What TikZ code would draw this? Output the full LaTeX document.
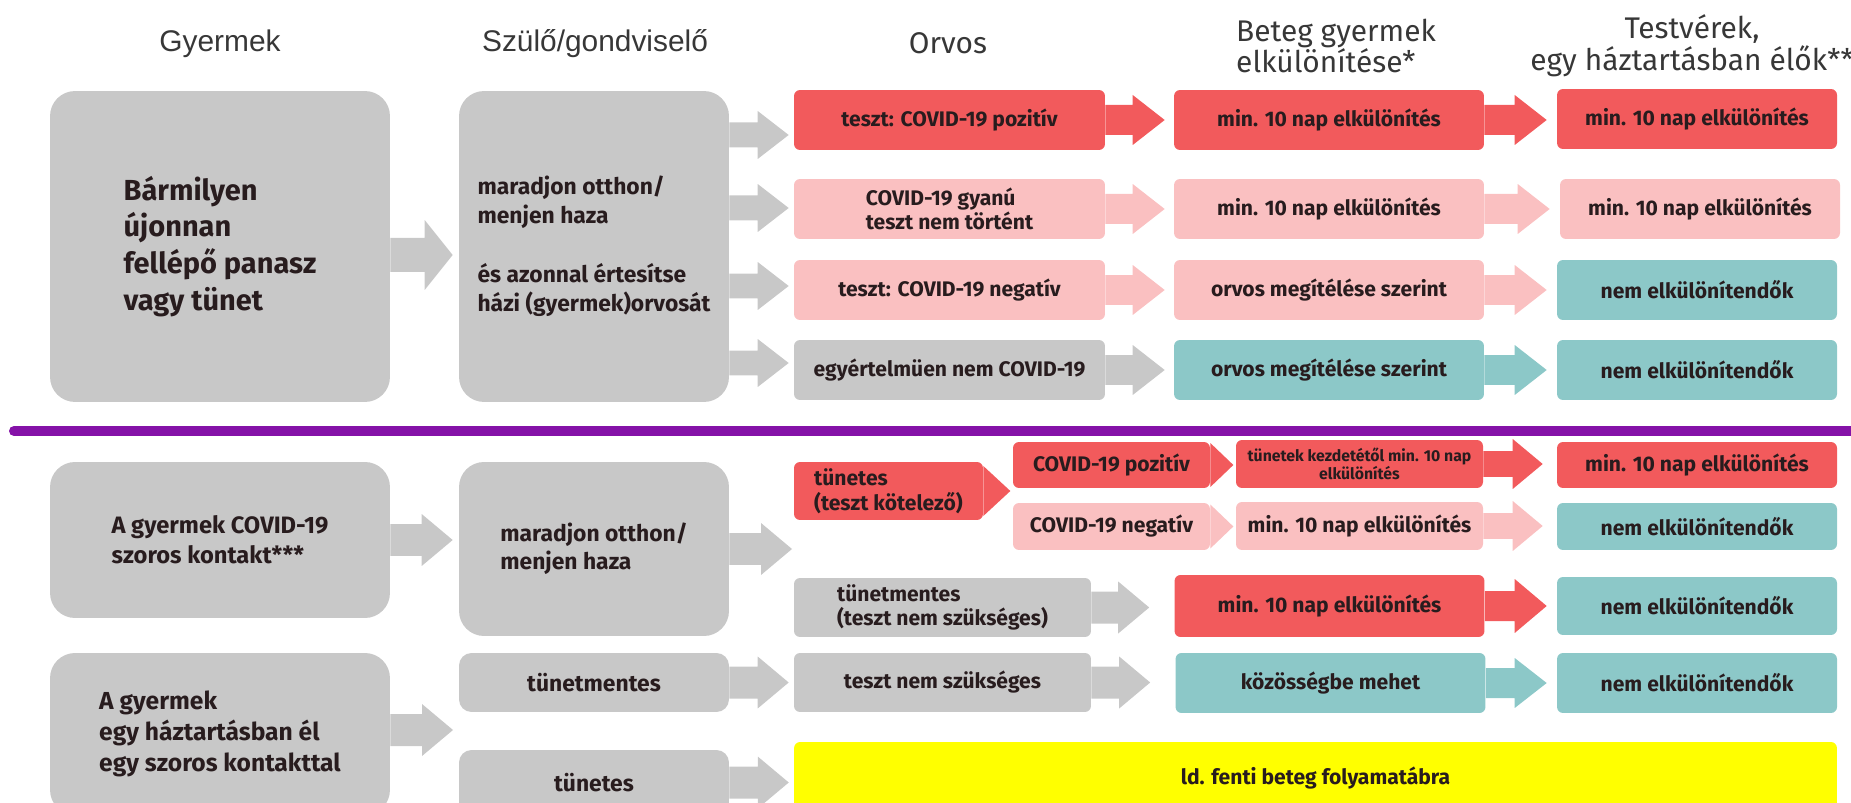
\documentclass[tikz,border=0pt]{standalone}
\usepackage{fontspec}
\setmainfont{Fira Sans}
\newfontfamily\hdfont{Liberation Sans}
\usetikzlibrary{calc}

\definecolor{cgray}{RGB}{200,200,200}
\definecolor{cred}{RGB}{242,90,92}
\definecolor{cpink}{RGB}{250,192,193}
\definecolor{cteal}{RGB}{140,200,200}
\definecolor{cyel}{RGB}{255,255,0}
\definecolor{cpurp}{RGB}{133,18,168}
\definecolor{ink}{RGB}{40,28,30}
\definecolor{hd}{RGB}{55,55,55}

\begin{document}
\begin{tikzpicture}[x=0.02cm, y=-0.02cm,
		shafthalf/.store in=\fsh, headhalf/.store in=\fhw, headlen/.store in=\fhl,
		shafthalf=0.3cm, headhalf=0.5cm, headlen=0.64cm,
		flow/.style={fill=#1, draw=none, to path={let \p1=(\tikztostart), \p2=(\tikztotarget) in
			(\x1,\y1+\fsh) -- (\x2-\fhl,\y1+\fsh) -- (\x2-\fhl,\y1+\fhw) -- (\x2,\y1)
			-- (\x2-\fhl,\y1-\fhw) -- (\x2-\fhl,\y1-\fsh) -- (\x1,\y1-\fsh) -- cycle}},
		box/.style={rectangle, rounded corners=0.12cm, inner sep=0pt, text=ink, align=center,
			font=\fontsize{12}{14}\bfseries\selectfont},
		ocell/.style={box, fill=#1, minimum width=6.22cm, minimum height=1.2cm},
		bcell/.style={box, fill=#1, minimum width=6.2cm, minimum height=1.2cm},
		tcell/.style={box, fill=#1, minimum width=5.6cm, minimum height=1.2cm},
		big/.style={box, fill=cgray, rounded corners=0.5cm, align=left, minimum width=6.8cm,
			font=\fontsize{13.5}{17}\bfseries\selectfont},
		mid/.style={box, fill=cgray, rounded corners=0.5cm, align=left, minimum width=5.4cm,
			font=\fontsize{13}{16}\bfseries\selectfont},
		colhead/.style={text=hd, font=\fontsize{17}{18}\selectfont},
		arialhead/.style={text=hd, font=\hdfont\fontsize{17}{18}\selectfont}]
		\useasboundingbox (0,0) rectangle (1851,803);
		\clip (0,0) rectangle (1851,803);

		\node[arialhead] (h1) at (220,44) {Gyermek};
		\node[arialhead] (h2) at (595,44) {Szülő/gondviselő};
		\node[colhead] (h3) at (948,43) {Orvos};
		\node[colhead, anchor=west, align=left] (h4) at (1230,46) {Beteg gyermek\\elkülönítése*};
		\node[colhead, align=center] (h5) at (1692,46) {Testvérek,\\egy háztartásban élők**};

		\node[big, minimum height=6.22cm, font=\fontsize{16.5}{21}\bfseries\selectfont] (gy1) at (220,246.5)
			{Bármilyen\\újonnan\\fellépő panasz\\vagy tünet};
		\node[mid, minimum height=6.22cm, font=\fontsize{13}{16.5}\bfseries\selectfont] (sz1) at (594,246.5)
			{maradjon otthon/\\menjen haza\\[17pt]és azonnal értesítse\\házi (gyermek)orvosát};

		\node[ocell=cred] (or1) at (949.5,120) {teszt: COVID-19 pozitív};
		\node[ocell=cpink, align=left] (or2) at (949.5,209) {COVID-19 gyanú\\teszt nem történt};
		\node[ocell=cpink] (or3) at (949.5,290) {teszt: COVID-19 negatív};
		\node[ocell=cgray] (or4) at (949.5,370) {egyértelmüen nem COVID-19};
		\node[bcell=cred] (be1) at (1329,120) {min. 10 nap elkülönítés};
		\node[bcell=cpink] (be2) at (1329,209) {min. 10 nap elkülönítés};
		\node[bcell=cpink] (be3) at (1329,290) {orvos megítélése szerint};
		\node[bcell=cteal] (be4) at (1329,370) {orvos megítélése szerint};
		\node[tcell=cred] (te1) at (1697,119) {min. 10 nap elkülönítés};
		\node[tcell=cpink] (te2) at (1700,209) {min. 10 nap elkülönítés};
		\node[tcell=cteal] (te3) at (1697,290) {nem elkülönítendők};
		\node[tcell=cteal] (te4) at (1697,370) {nem elkülönítendők};

		\path[flow=cgray, shafthalf=0.34cm, headhalf=0.7cm, headlen=0.56cm]
			([yshift=-0.17cm]gy1.east) to ([xshift=-0.12cm]sz1.west);
		\path[flow=cgray, shafthalf=0.25cm, headhalf=0.48cm, headlen=0.62cm]
			($(sz1.east |- or1)+(0,15)$) to ([xshift=-0.1cm]or1.west)
			($(sz1.east |- or2)+(0,-1)$) to ([xshift=-0.1cm]or2.west)
			($(sz1.east |- or3)+(0,-4)$) to ([xshift=-0.1cm]or3.west)
			($(sz1.east |- or4)+(0,-7)$) to ([xshift=-0.1cm]or4.west);
		\path[flow=cred] (or1.east) to ([xshift=-0.18cm]be1.west)
			(be1.east) to ([xshift=-0.2cm]te1.west);
		\path[flow=cpink] (or2.east) to ([xshift=-0.18cm]be2.west)
			(be2.east) to ([xshift=-0.2cm]te2.west)
			(or3.east) to ([xshift=-0.18cm]be3.west)
			(be3.east) to ([xshift=-0.2cm]te3.west);
		\path[flow=cgray] (or4.east) to ([xshift=-0.18cm]be4.west);
		\path[flow=cteal] (be4.east) to ([xshift=-0.2cm]te4.west);

		\coordinate (dl) at (14,431);
		\coordinate (dr) at (1870,431);
		\draw[cpurp, line width=0.2cm, line cap=round] (dl) -- (dr);

		\node[big, minimum height=3.12cm] (gy2) at (220,540) {A gyermek COVID-19\\szoros kontakt***};
		\node[mid, minimum height=3.48cm] (sz2) at (594,549) {maradjon otthon/\\menjen haza};
		\node[mid, rounded corners=0.25cm, align=center, minimum height=1.18cm] (sz3) at (594,682.5) {tünetmentes};
		\node[mid, rounded corners=0.25cm, align=center, minimum height=1.3cm] (sz4) at (594,782.5) {tünetes};
		\node[big, minimum height=3.24cm, font=\fontsize{14}{17.6}\bfseries\selectfont] (gy3) at (220,734)
			{A gyermek\\egy háztartásban él\\egy szoros kontakttal};

		\node[box, fill=cred, minimum width=3.78cm, minimum height=1.16cm, align=left] (or5) at (888.5,491)
			{tünetes\\(teszt kötelező)};
		\node[box, fill=cred, minimum width=3.94cm, minimum height=0.92cm] (or6) at (1111.5,465) {COVID-19 pozitív};
		\node[box, fill=cpink, minimum width=3.94cm, minimum height=0.94cm] (or7) at (1111.5,526.5) {COVID-19 negatív};
		\node[box, fill=cred, minimum width=4.94cm, minimum height=0.96cm, font=\fontsize{9}{10.5}\bfseries\selectfont]
			(be5) at (1359.5,464) {tünetek kezdetétől min. 10 nap\\elkülönítés};
		\node[box, fill=cpink, minimum width=4.94cm, minimum height=0.96cm] (be6) at (1359.5,526) {min. 10 nap elkülönítés};
		\node[tcell=cred, minimum height=0.92cm] (te5) at (1697,465) {min. 10 nap elkülönítés};
		\node[tcell=cteal, minimum height=0.94cm] (te6) at (1697,526.5) {nem elkülönítendők};

		\node[box, fill=cgray, minimum width=5.94cm, minimum height=1.18cm, align=left] (or8) at (942.5,607.5)
			{tünetmentes\\(teszt nem szükséges)};
		\node[box, fill=cgray, minimum width=5.94cm, minimum height=1.18cm] (or9) at (942.5,682.5) {teszt nem szükséges};
		\node[bcell=cred, minimum height=1.24cm] (be7) at (1329.5,606) {min. 10 nap elkülönítés};
		\node[bcell=cteal] (be8) at (1330.5,683) {közösségbe mehet};
		\node[tcell=cteal, minimum height=1.16cm] (te7) at (1697,606) {nem elkülönítendők};
		\node[tcell=cteal] (te8) at (1697,683) {nem elkülönítendők};
		\node[box, fill=cyel, minimum width=20.86cm, minimum height=1.46cm] (ld) at (1315.5,778.5) {ld. fenti beteg folyamatábra};

		\coordinate (dsplit) at (792,549);
		\coordinate (gsplit) at (453,730);
		\path[flow=cgray, shafthalf=0.32cm, headhalf=0.52cm, headlen=0.62cm]
			(gy2.east) to ([xshift=-0.12cm]sz2.west)
			(sz2.east) to (dsplit)
			(gy3.east |- gsplit) to (gsplit)
			(sz3.east) to ([xshift=-0.1cm]or9.west)
			(sz4.east) to ([xshift=-0.1cm]ld.west)
			(or8.east) to ([xshift=-0.5cm]be7.west)
			(or9.east) to ([xshift=-0.5cm]be8.west);
		\path[flow=cred, shafthalf=0cm, headhalf=0.5cm, headlen=0.54cm] (or5.east) to ([xshift=0.54cm]or5.east);
		\path[flow=cred, shafthalf=0cm, headhalf=0.44cm, headlen=0.46cm] (or6.east) to ([xshift=0.46cm]or6.east);
		\path[flow=cpink, shafthalf=0cm, headhalf=0.44cm, headlen=0.46cm] (or7.east) to ([xshift=0.46cm]or7.east);
		\path[flow=cred, shafthalf=0.26cm, headhalf=0.5cm, headlen=0.6cm] (be5.east) to ([xshift=-0.28cm]te5.west);
		\path[flow=cpink, shafthalf=0.26cm, headhalf=0.5cm, headlen=0.6cm] (be6.east) to ([xshift=-0.28cm]te6.west);
		\path[flow=cred, headhalf=0.54cm] (be7.east) to ([xshift=-0.2cm]te7.west);
		\path[flow=cteal] (be8.east) to ([xshift=-0.2cm]te8.west);
	\end{tikzpicture}
\end{document}
